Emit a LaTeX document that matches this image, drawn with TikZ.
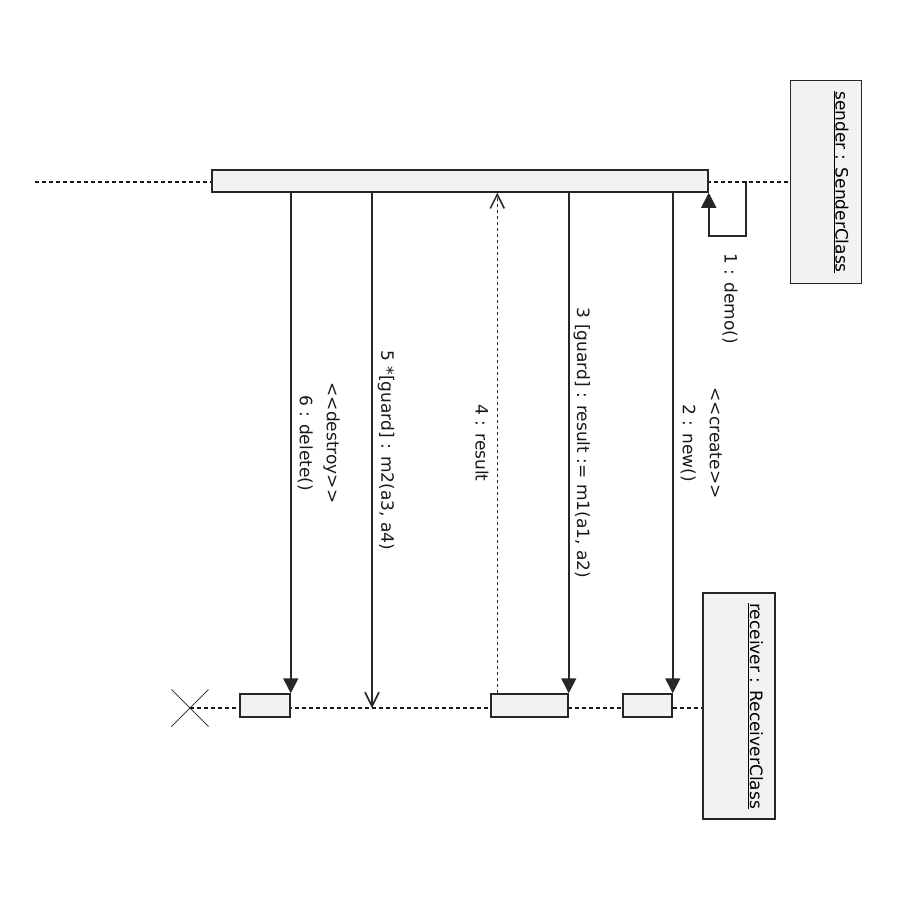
\documentclass[tikz,border=0pt]{standalone}
\usepackage{fontspec}
\setmainfont{DejaVu Sans}
\usetikzlibrary{arrows.meta,shapes.misc}
\tikzset{>={Triangle[width=15pt,length=15pt]}}

\begin{document}
\begin{tikzpicture}[x=1pt, y=-1pt,
  obj/.style={draw=black!85, fill=black!5, line width=1.5pt, rotate=-90, inner xsep=0pt, inner ysep=0pt},
  act/.style={draw=black!85, fill=black!5, line width=1.5pt, inner sep=0pt},
  life/.style={draw=black!90, line width=1.6pt, dash pattern=on 4pt off 3pt},
  call/.style={draw=black!85, line width=1.6pt, ->},
  async/.style={draw=black!85, line width=1.6pt, -{Straight Barb[width=14pt,length=14pt]}},
  reply/.style={draw=black!85, line width=1.5pt, dash pattern=on 3pt off 3pt, -{Straight Barb[width=14pt,length=14pt]}},
  lbl/.style={rotate=-90, align=center, text=black!90}]

  \fontsize{17}{27}\selectfont

  \useasboundingbox (0,0) rectangle (900,900);

  %% objects
  \node[obj, minimum width=203pt, text height=26pt, text depth=45pt] (snd) at (826,182) {\underline{sender : SenderClass}};
  \node[obj, minimum width=226pt, text height=25pt, text depth=47pt] (rcv) at (739,706) {\underline{receiver : ReceiverClass}};

  %% life lines
  \node[draw=black!75, cross out, line width=1pt, minimum size=36pt, inner sep=0pt] (xend) at (190,708) {};
  \coordinate (sstart) at (35,182);
  \draw[life] (sstart) -- (snd.south);
  \draw[life] (xend.center) -- (xend.center -| rcv.south);

  %% activations
  \node[act, minimum width=496pt, minimum height=22pt] (sbar) at (460,181) {};
  \node[act, minimum width=50pt, minimum height=23pt] (actA) at (265,705.5) {};
  \node[act, minimum width=77pt, minimum height=23pt] (actB) at (529.5,705.5) {};
  \node[act, minimum width=49pt, minimum height=23pt] (actC) at (647.5,705.5) {};

  %% messages
  \draw[call] (sbar.east) ++(37,0) -- ++(0,55) -| (sbar.south east); % 1
  \node[lbl, anchor=west, inner sep=0pt] (m1) at (730,253) {1 : demo()};

  \draw[call] (actC.north east |- sbar.south) --
  node[lbl, anchor=south, inner sep=7pt] (m2) {<{}<create>{}>\\2 : new()}
  (actC.north east); % 2

  \draw[call] (actB.north east |- sbar.south) --
  node[lbl, anchor=south, inner sep=4pt] (m3) {3 [guard] : result := m1(a1, a2)}
  (actB.north east); % 3

  \coordinate (r4) at ([xshift=7pt]actB.north west);
  \draw[reply] (r4) --
  node[lbl, anchor=north, inner sep=8pt] (m4) {4 : result}
  (r4 |- sbar.south); % 4

  \coordinate (m5end) at (372,708);
  \draw[async] (m5end |- sbar.south) --
  node[lbl, anchor=south, inner sep=5pt] (m5) {5 *[guard] : m2(a3, a4)}
  (m5end); % 5

  \draw[call] (actA.north east |- sbar.south) --
  node[lbl, anchor=south, inner sep=6pt] (m6) {<{}<destroy>{}>\\6 : delete()}
  (actA.north east); % 6

\end{tikzpicture}
\end{document}
